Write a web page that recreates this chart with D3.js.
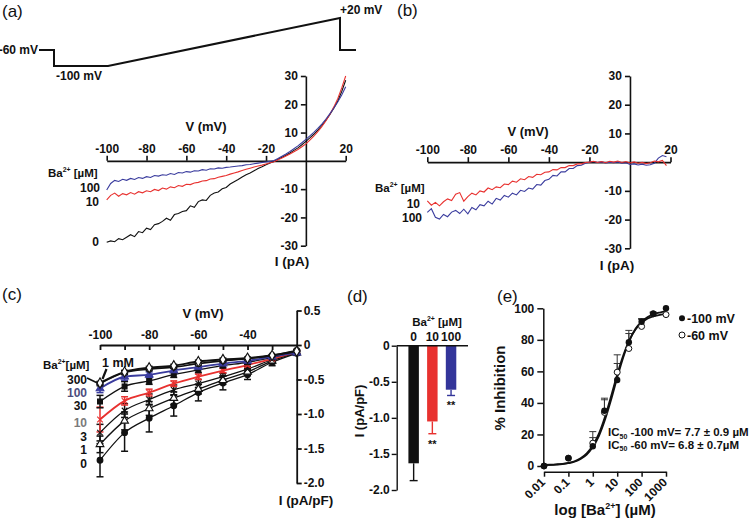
<!DOCTYPE html>
<html><head><meta charset="utf-8">
<script src="https://cdn.jsdelivr.net/npm/d3@7/dist/d3.min.js"></script>
<style>body{margin:0;background:#fff}svg{display:block}</style>
</head><body>
<svg id="fig" width="750" height="518"></svg>
<script>
// ================= DATA =================
// (a)/(b) ramp I-V traces, voltage grid (mV)
const vGrid = [-100,-98,-96,-94,-92,-90,-88,-86,-84,-82,-80,-78,-76,-74,-72,-70,-68,-66,-64,-62,-60,-58,-56,-54,-52,-50,-48,-46,-44,-42,-40,-38,-36,-34,-32,-30,-28,-26,-24,-22,-20,-18,-16,-14,-12,-10,-8,-6,-4,-2,0,2,4,6,8,10,12,14,16,18,20];
// (a) current (pA), Ba2+ 0 / 10 / 100 uM
const aBa0 = [-28.8,-28.3,-28.6,-27.5,-27.9,-27.0,-26.1,-26.8,-25.0,-25.4,
  -23.8,-24.3,-22.6,-22.2,-21.4,-20.3,-21.0,-19.0,-18.6,-17.9,
  -17.6,-15.9,-16.4,-14.4,-13.8,-14.0,-12.2,-11.4,-11.0,-9.9,
  -9.4,-8.2,-7.4,-6.6,-5.7,-4.9,-4.3,-3.5,-2.7,-2.1,
  -1.4,-0.8,-0.2,0.6,1.3,2.0,2.8,3.7,4.6,5.7,
  6.9,8.1,9.4,10.9,12.5,14.3,16.3,18.6,21.2,24.5,28.5];
const aBa10 = [-13.8,-12.2,-11.4,-12.5,-11.6,-12.0,-11.2,-11.8,-10.9,-11.3,
  -10.6,-10.9,-10.1,-10.5,-9.6,-10.0,-9.2,-9.5,-8.7,-9.0,
  -8.3,-8.4,-7.8,-7.6,-7.1,-7.0,-6.4,-6.3,-5.8,-5.5,
  -5.2,-4.7,-4.3,-3.9,-3.4,-3.0,-2.6,-2.2,-1.8,-1.5,
  -1.1,-0.7,-0.3,0.4,1.0,1.7,2.4,3.2,4.0,5.0,
  6.0,7.3,8.7,10.3,12.1,14.1,16.4,19.0,22.0,25.8,30.0];
const aBa100 = [-10.3,-8.0,-6.9,-7.3,-6.5,-6.9,-6.2,-6.6,-5.9,-6.2,
  -5.6,-5.9,-5.2,-5.4,-4.9,-5.1,-4.5,-4.8,-4.1,-4.3,
  -3.8,-4.0,-3.5,-3.6,-3.1,-3.3,-2.8,-2.9,-2.5,-2.6,
  -2.3,-2.2,-2.0,-1.8,-1.7,-1.4,-1.3,-1.0,-0.8,-0.6,
  -0.4,-0.2,0.1,0.8,1.6,2.4,3.3,4.3,5.3,6.4,
  7.6,8.8,10.1,11.5,13.0,14.7,16.6,18.6,20.8,23.3,26.2];
// (b) Ba2+-sensitive current (pA), 10 / 100 uM (ends at +18 mV)
const bBa10 = [-13.5,-15.0,-14.0,-15.2,-13.8,-12.8,-13.4,-11.2,-10.6,-13.6,
  -12.0,-10.8,-11.4,-10.0,-10.4,-9.0,-9.6,-8.6,-8.9,-7.6,
  -7.8,-6.6,-7.0,-5.8,-6.1,-5.0,-5.3,-4.2,-4.4,-3.5,
  -3.4,-2.6,-2.7,-1.9,-1.9,-1.2,-1.2,-0.6,-0.6,-0.1,
  0.0,0.3,-0.1,0.2,-0.2,0.3,0.0,0.4,-0.1,0.2,
  -0.3,0.1,-0.4,-0.1,-0.5,-0.2,0.4,0.1,0.6,-1.2];
const bBa100 = [-17.5,-16.2,-19.2,-19.8,-18.2,-19.0,-17.4,-16.8,-17.9,-16.4,
  -18.0,-15.8,-16.6,-14.8,-15.2,-13.6,-14.6,-12.6,-13.2,-11.6,
  -12.2,-10.8,-11.4,-9.8,-10.2,-9.0,-9.4,-7.8,-8.0,-6.4,
  -6.0,-4.6,-4.8,-3.4,-3.4,-2.2,-2.2,-1.2,-1.1,-0.4,
  0.0,0.2,-0.1,0.1,-0.3,0.0,-0.2,0.1,-0.4,-0.2,
  -0.8,-0.6,-1.0,-0.7,-1.1,-0.9,-0.4,1.4,2.3,1.9];
const ivTicksX = [-100,-80,-60,-40,-20,20];
const ivTicksY = [30,20,10,-10,-20,-30];
// (a) voltage protocol (schematic time units, mV)
const protoTime = [0,15,15,69,301,301,317];
const protoMv = [-60,-60,-100,-100,20,-60,-60];

// (c) mean I (pA/pF) at each voltage for each Ba2+ concentration
const cV = [-100,-90,-80,-70,-60,-50,-40,-30,-20];
const cConc = ["0","1","3","10","30","100","300","1 mM"];
const c0    = [-1.67,-1.27,-1.06,-0.88,-0.69,-0.55,-0.43,-0.25,-0.12];
const c1    = [-1.44,-1.10,-0.92,-0.77,-0.64,-0.51,-0.39,-0.23,-0.11];
const c3    = [-1.27,-0.95,-0.79,-0.65,-0.56,-0.46,-0.35,-0.21,-0.10];
const c10   = [-1.08,-0.81,-0.69,-0.56,-0.46,-0.37,-0.29,-0.20,-0.10];
const c30   = [-0.82,-0.60,-0.52,-0.43,-0.36,-0.30,-0.25,-0.18,-0.09];
const c100  = [-0.63,-0.46,-0.43,-0.37,-0.32,-0.27,-0.23,-0.17,-0.11];
const c300  = [-0.56,-0.40,-0.35,-0.32,-0.27,-0.23,-0.20,-0.15,-0.08];
const c1000 = [-0.55,-0.39,-0.33,-0.30,-0.24,-0.21,-0.19,-0.15,-0.09];
const ce0    = [0.24,0.27,0.20,0.15,0.12,0.10,0.07,0.05,0.03];
const ce1    = [0.12,0.13,0.10,0.09,0.07,0.06,0.05,0.04,0.02];
const ce3    = [0.12,0.10,0.08,0.07,0.06,0.05,0.04,0.03,0.02];
const ce10   = [0.18,0.06,0.05,0.04,0.04,0.03,0.03,0.02,0.02];
const ce30   = [0.09,0.07,0.05,0.04,0.04,0.03,0.03,0.02,0.02];
const ce100  = [0.06,0.05,0.04,0.03,0.03,0.03,0.02,0.02,0.02];
const ce300  = [0.03,0.03,0.02,0.02,0.02,0.02,0.02,0.01,0.01];
const ce1000 = [0.02,0.02,0.02,0.02,0.02,0.02,0.01,0.01,0.01];
const cTicksY = [0.5,0,-0.5,-1.0,-1.5,-2.0];
const cTickLabelsX = [-100,-80,-60,-40];

// (d) bars at -100 mV
const dConc = ["0","10","100"];
const dMean = [-1.63,-1.05,-0.61];
const dErr  = [0.24,0.17,0.08];
const dSig  = ["","**","**"];
const dTicksY = [0,-0.5,-1.0,-1.5,-2.0];

// (e) concentration-response
const eConc = [0.01,0.1,1,3,10,30,100,300,1000];
const eInh100 = [0,5,12.5,35,54.5,78.5,91.5,96.5,100];
const eErr100 = [0,0,5.5,8,10.5,7.5,2,1,0];
const eInh60  = [0,5,14.5,34,59.5,74.5,88.5,96.5,96];
const eErr60  = [0,0,7.3,8,11,9.5,4.5,1,0];
const eTicksX = [0.01,0.1,1,10,100,1000];
const eTickLabels = ["0.01","0.1","1","10","100","1000"];
const eTicksY = [0,20,40,60,80,100];
const fitLogConc = [-2,-1.75,-1.5,-1.25,-1,-0.75,-0.5,-0.25,0,0.25,0.5,0.75,1,1.25,1.5,1.75,2,2.25,2.5,2.75,3];
const fit100 = [0.6,0.7,0.9,1.2,1.8,2.7,4.4,7.2,12.0,19.0,29.3,42.0,56.0,69.0,79.5,87.0,91.5,94.5,96.3,97.3,98.0];
const fit60  = [0.7,0.8,1.0,1.4,2.0,3.0,4.9,8.0,13.0,20.5,31.2,44.2,58.0,70.2,79.8,86.6,90.8,93.5,95.0,95.9,96.4];

// ================= DRAWING =================
const F = '"Liberation Sans", Arial, Helvetica, sans-serif';
const INK = "#111";
const RED = "#e8312f";
const BLUE = "#3a3c9e";
const svg = d3.select("#fig");

function T(g, x, y, s, o = {}) {
  const t = g.append("text").attr("x", x).attr("y", y)
    .attr("font-family", F).attr("font-size", o.size || 12)
    .attr("font-weight", o.weight || "bold")
    .attr("text-anchor", o.anchor || "start")
    .attr("fill", o.fill || INK).text(s);
  if (o.rot !== undefined) t.attr("transform", `rotate(${o.rot},${x},${y})`);
  return t;
}
function baText(g, x, y, anchor, size, sep) {
  const t = g.append("text").attr("x", x).attr("y", y).attr("font-family", F)
    .attr("font-size", size).attr("font-weight", "bold").attr("text-anchor", anchor).attr("fill", INK);
  t.append("tspan").text("Ba");
  t.append("tspan").attr("font-size", size * 0.6).attr("dy", -size * 0.4).text("2+");
  t.append("tspan").attr("dy", size * 0.4).text(sep + "[µM]");
  return t;
}
function styleAxis(g, size, sw) {
  g.attr("font-family", F).attr("font-size", size).attr("font-weight", "bold");
  g.selectAll(".domain,.tick line").attr("stroke", INK).attr("stroke-width", sw);
  g.selectAll("text").attr("fill", INK);
}
const intFmt = d => String(d);
const oneFmt = d => (d === 0 ? "0" : d.toFixed(1));

// ---------- (a) ----------
const gA = svg.append("g");
T(gA, 2, 17, "(a)", { size: 17, weight: "normal" });
const xP = d3.scaleLinear().domain([0, 317]).range([39, 356]);
const yP = d3.scaleLinear().domain([-100, 20]).range([66, 18]);
gA.append("path").datum(d3.zip(protoTime, protoMv))
  .attr("d", d3.line().x(d => xP(d[0])).y(d => yP(d[1])))
  .attr("fill", "none").attr("stroke", INK).attr("stroke-width", 2);
T(gA, 38, 54, "-60 mV", { anchor: "end" });
T(gA, 56, 80, "-100 mV");
T(gA, 340, 14, "+20 mV");

const xA = d3.scaleLinear().domain([-100, 20]).range([106.7, 345.7]);
const yA = d3.scaleLinear().domain([-30, 30]).range([245.7, 76]);
gA.append("g").attr("transform", `translate(0,${yA(0)})`)
  .call(d3.axisTop(xA).tickValues(ivTicksX).tickFormat(intFmt).tickSize(5).tickSizeOuter(0).tickPadding(3))
  .call(g => styleAxis(g, 12, 1.6));
gA.append("g").attr("transform", `translate(${xA(0)},0)`)
  .call(d3.axisLeft(yA).tickValues(ivTicksY).tickFormat(intFmt).tickSize(5).tickSizeOuter(0).tickPadding(3))
  .call(g => styleAxis(g, 12, 1.6));
const lineA = d3.line().x(d => xA(d[0])).y(d => yA(d[1]));
[[aBa0, INK], [aBa10, RED], [aBa100, BLUE]].forEach(([arr, col]) => {
  gA.append("path").datum(arr.map((v, i) => [vGrid[i], v])).attr("d", lineA)
    .attr("fill", "none").attr("stroke", col).attr("stroke-width", 1.1);
});
T(gA, 206, 131, "V (mV)", { anchor: "middle", size: 13 });
T(gA, 292, 266, "I (pA)", { anchor: "middle", size: 13.5 });
baText(gA, 48, 177, "start", 11.5, " ");
T(gA, 100, 192, "100", { anchor: "end" });
T(gA, 99, 206, "10", { anchor: "end" });
T(gA, 99, 246, "0", { anchor: "end" });

// ---------- (b) ----------
const gB = svg.append("g");
T(gB, 397, 16, "(b)", { size: 17, weight: "normal" });
const xB = d3.scaleLinear().domain([-100, 20]).range([427.3, 670.5]);
const yB = d3.scaleLinear().domain([-30, 30]).range([248.3, 76]);
gB.append("g").attr("transform", `translate(0,${yB(0)})`)
  .call(d3.axisTop(xB).tickValues(ivTicksX).tickFormat(intFmt).tickSize(5).tickSizeOuter(0).tickPadding(3))
  .call(g => styleAxis(g, 12, 1.6));
gB.append("g").attr("transform", `translate(${xB(0)},0)`)
  .call(d3.axisLeft(yB).tickValues(ivTicksY).tickFormat(intFmt).tickSize(5).tickSizeOuter(0).tickPadding(3))
  .call(g => styleAxis(g, 12, 1.6));
const lineB = d3.line().x(d => xB(d[0])).y(d => yB(d[1]));
[[bBa100, BLUE], [bBa10, RED]].forEach(([arr, col]) => {
  gB.append("path").datum(arr.map((v, i) => [vGrid[i], v])).attr("d", lineB)
    .attr("fill", "none").attr("stroke", col).attr("stroke-width", 1.1);
});
T(gB, 528, 136, "V (mV)", { anchor: "middle", size: 13 });
T(gB, 617, 270, "I (pA)", { anchor: "middle", size: 13.5 });
baText(gB, 375, 192, "start", 11.5, " ");
T(gB, 420, 208, "10", { anchor: "end" });
T(gB, 422, 222, "100", { anchor: "end" });

// ---------- (c) ----------
const gC = svg.append("g");
T(gC, 2, 300, "(c)", { size: 17, weight: "normal" });
const xC = d3.scaleLinear().domain([-100, -20]).range([100, 296.7]);
const yC = d3.scaleLinear().domain([-2, 0.5]).range([483, 310.5]);
gC.append("g").attr("transform", `translate(0,${yC(0)})`)
  .call(d3.axisBottom(xC).tickValues(cV).tickSize(5).tickSizeOuter(0)
    .tickFormat(d => (cTickLabelsX.includes(d) ? String(d) : "")))
  .call(g => styleAxis(g, 12, 1.8))
  .call(g => g.selectAll("text").attr("y", -6).attr("dy", "0"));
gC.append("g").attr("transform", `translate(${xC(-20)},0)`)
  .call(d3.axisRight(yC).tickValues(cTicksY).tickFormat(oneFmt).tickSize(5).tickSizeOuter(0).tickPadding(2))
  .call(g => styleAxis(g, 12, 1.8));

const cMeans = [c0, c1, c3, c10, c30, c100, c300, c1000];
const cErrs = [ce0, ce1, ce3, ce10, ce30, ce100, ce300, ce1000];
const cStyle = [
  { col: INK, sym: d3.symbolCircle, fill: INK, w: 1.3, size: 26 },
  { col: INK, sym: d3.symbolTriangle, fill: "#fff", w: 1.3, size: 26 },
  { col: INK, sym: d3.symbolTimes, fill: "none", w: 1.3, size: 22 },
  { col: RED, sym: d3.symbolTimes, fill: "none", w: 1.8, size: 22 },
  { col: INK, sym: d3.symbolSquare, fill: INK, w: 1.3, size: 24 },
  { col: BLUE, sym: d3.symbolTriangle, fill: BLUE, w: 1.8, size: 26 },
  { col: INK, sym: d3.symbolCircle, fill: "#fff", w: 1.6, size: 26 },
  { col: INK, sym: d3.symbolDiamond, fill: "#fff", w: 2.0, size: 30 }
];
const lineC = d3.line().x(d => xC(d[0])).y(d => yC(d[1])).curve(d3.curveMonotoneX);
cMeans.forEach((arr, k) => {
  const st = cStyle[k];
  const g = gC.append("g");
  arr.forEach((v, i) => {
    const x = xC(cV[i]), e = cErrs[k][i];
    g.append("line").attr("x1", x).attr("x2", x).attr("y1", yC(v + e)).attr("y2", yC(v - e))
      .attr("stroke", st.col).attr("stroke-width", 1.5);
    [v + e, v - e].forEach(ev => g.append("line").attr("x1", x - 3.5).attr("x2", x + 3.5)
      .attr("y1", yC(ev)).attr("y2", yC(ev)).attr("stroke", st.col).attr("stroke-width", 1.5));
  });
  g.append("path").datum(arr.map((v, i) => [cV[i], v])).attr("d", lineC)
    .attr("fill", "none").attr("stroke", st.col).attr("stroke-width", st.w);
});
cMeans.forEach((arr, k) => {
  const st = cStyle[k];
  gC.append("g").selectAll("path").data(arr).join("path")
    .attr("transform", (v, i) => `translate(${xC(cV[i])},${yC(v)})`)
    .attr("d", d3.symbol().type(st.sym).size(st.size))
    .attr("fill", st.fill).attr("stroke", st.col).attr("stroke-width", 1.1);
});
T(gC, 203, 318, "V (mV)", { anchor: "middle", size: 13 });
T(gC, 306, 505, "I (pA/pF)", { anchor: "middle", size: 13.5 });
baText(gC, 43, 369, "start", 11.5, "");
T(gC, 102, 367, cConc[7], { size: 12.5 });
gC.append("line").attr("x1", 106.5).attr("y1", 369).attr("x2", 102.5).attr("y2", 379)
  .attr("stroke", INK).attr("stroke-width", 2.2);
gC.append("line").attr("x1", 87).attr("y1", 378).attr("x2", 97.5).attr("y2", 383)
  .attr("stroke", INK).attr("stroke-width", 1.6);
const cLabelY = { "300": 383.5, "100": 396.5, "30": 409.5, "10": 427, "3": 441, "1": 453.5, "0": 467.5 };
const cLabelCol = { "100": "#4d4d7e", "10": "#7a7a7a" };
cConc.slice(0, 7).forEach(c => T(gC, 87, cLabelY[c], c, { anchor: "end", size: 12, fill: cLabelCol[c] || INK }));

// ---------- (d) ----------
const gD = svg.append("g");
T(gD, 347, 302, "(d)", { size: 17, weight: "normal" });
const yD = d3.scaleLinear().domain([-2, 0]).range([490, 345.7]);
const xD = d3.scaleBand().domain(dConc).range([402.8, 461.9]).paddingInner(0.44).paddingOuter(0.3);
const dCol = [INK, RED, "#33359a"];
gD.append("g").attr("transform", "translate(396.7,0)")
  .call(d3.axisLeft(yD).tickValues(dTicksY).tickFormat(oneFmt).tickSize(5).tickSizeOuter(0).tickPadding(2))
  .call(g => styleAxis(g, 12, 1.4));
dConc.forEach((c, i) => {
  const x = xD(c), w = xD.bandwidth(), cx = x + w / 2;
  const yEnd = yD(dMean[i] - dErr[i]);
  gD.append("line").attr("x1", cx).attr("x2", cx).attr("y1", yD(dMean[i])).attr("y2", yEnd)
    .attr("stroke", dCol[i]).attr("stroke-width", 1.4);
  gD.append("line").attr("x1", cx - 4).attr("x2", cx + 4).attr("y1", yEnd).attr("y2", yEnd)
    .attr("stroke", dCol[i]).attr("stroke-width", 1.4);
  gD.append("rect").attr("x", x).attr("y", yD(0)).attr("width", w)
    .attr("height", yD(dMean[i]) - yD(0)).attr("fill", dCol[i]);
  if (dSig[i]) T(gD, cx, yEnd + 14, dSig[i], { anchor: "middle", size: 11 });
  T(gD, cx, 341, c, { anchor: "middle", size: 12 });
});
gD.append("line").attr("x1", 396.7).attr("x2", 468).attr("y1", yD(0)).attr("y2", yD(0))
  .attr("stroke", INK).attr("stroke-width", 1.5);
baText(gD, 437, 326, "middle", 11.5, " ");
T(gD, 364, 411, "I (pA/pF)", { anchor: "middle", size: 13, rot: -90 });

// ---------- (e) ----------
const gE = svg.append("g");
T(gE, 497, 302, "(e)", { size: 17, weight: "normal" });
const xE = d3.scaleLog().domain([0.01, 1000]).range([544, 666]);
const xEl = d3.scaleLinear().domain([-2, 3]).range([544, 666]);
const yE = d3.scaleLinear().domain([0, 100]).range([466, 308.3]);
gE.append("g").attr("transform", "translate(543.3,0)")
  .call(d3.axisLeft(yE).tickValues(eTicksY).tickFormat(intFmt).tickSize(6).tickSizeOuter(0).tickPadding(3))
  .call(g => styleAxis(g, 12, 1.5));
gE.append("g").attr("transform", "translate(0,471.7)")
  .call(d3.axisBottom(xE).tickValues(eTicksX).tickFormat("").tickSize(5).tickSizeOuter(0))
  .call(g => styleAxis(g, 12, 1.5));
eTicksX.forEach((t, i) => {
  const x = xE(t) + 2, y = 483;
  T(gE, x, y, eTickLabels[i], { anchor: "end", size: 12, rot: -45 });
});
// error bars (upwards)
[[eInh100, eErr100], [eInh60, eErr60]].forEach(([m, er]) => {
  m.forEach((v, i) => {
    if (!er[i]) return;
    const x = xE(eConc[i]);
    gE.append("line").attr("x1", x).attr("x2", x).attr("y1", yE(v)).attr("y2", yE(v + er[i]))
      .attr("stroke", "#333").attr("stroke-width", 1);
    gE.append("line").attr("x1", x - 3.5).attr("x2", x + 3.5).attr("y1", yE(v + er[i])).attr("y2", yE(v + er[i]))
      .attr("stroke", "#333").attr("stroke-width", 1);
  });
});
const fitLine = d3.line().x(d => xEl(d[0])).y(d => yE(d[1])).curve(d3.curveMonotoneX);
[fit100, fit60].forEach(arr => {
  gE.append("path").datum(arr.map((v, i) => [fitLogConc[i], v])).attr("d", fitLine)
    .attr("fill", "none").attr("stroke", INK).attr("stroke-width", 1.8);
});
gE.append("g").selectAll("circle").data(eInh60).join("circle")
  .attr("cx", (v, i) => xE(eConc[i])).attr("cy", v => yE(v)).attr("r", 3)
  .attr("fill", "#fff").attr("stroke", INK).attr("stroke-width", 1);
gE.append("g").selectAll("circle").data(eInh100).join("circle")
  .attr("cx", (v, i) => xE(eConc[i])).attr("cy", v => yE(v)).attr("r", 3.2)
  .attr("fill", INK);
gE.append("circle").attr("cx", 682).attr("cy", 318.3).attr("r", 3).attr("fill", INK);
gE.append("circle").attr("cx", 682).attr("cy", 335).attr("r", 3).attr("fill", "#fff").attr("stroke", INK);
T(gE, 687, 322.5, "-100 mV", { size: 12.5 });
T(gE, 687, 339.5, "-60 mV", { size: 12.5 });
function icLine(y, rest) {
  const t = gE.append("text").attr("x", 608).attr("y", y).attr("font-family", F)
    .attr("font-size", 11.5).attr("font-weight", "bold").attr("fill", INK);
  t.append("tspan").text("IC");
  t.append("tspan").attr("font-size", 7).attr("dy", 2.5).text("50");
  t.append("tspan").attr("dy", -2.5).text(rest);
}
icLine(436, " -100 mV= 7.7 ± 0.9 µM");
icLine(448.5, " -60 mV= 6.8 ± 0.7µM");
T(gE, 505, 388, "% Inhibition", { anchor: "middle", size: 15, rot: -90 });
const xt = gE.append("text").attr("x", 605).attr("y", 515).attr("text-anchor", "middle")
  .attr("font-family", F).attr("font-size", 15).attr("font-weight", "bold").attr("fill", INK);
xt.append("tspan").text("log [Ba");
xt.append("tspan").attr("font-size", 9).attr("dy", -6).text("2+");
xt.append("tspan").attr("dy", 6).text("] (µM)");
</script>
</body></html>
